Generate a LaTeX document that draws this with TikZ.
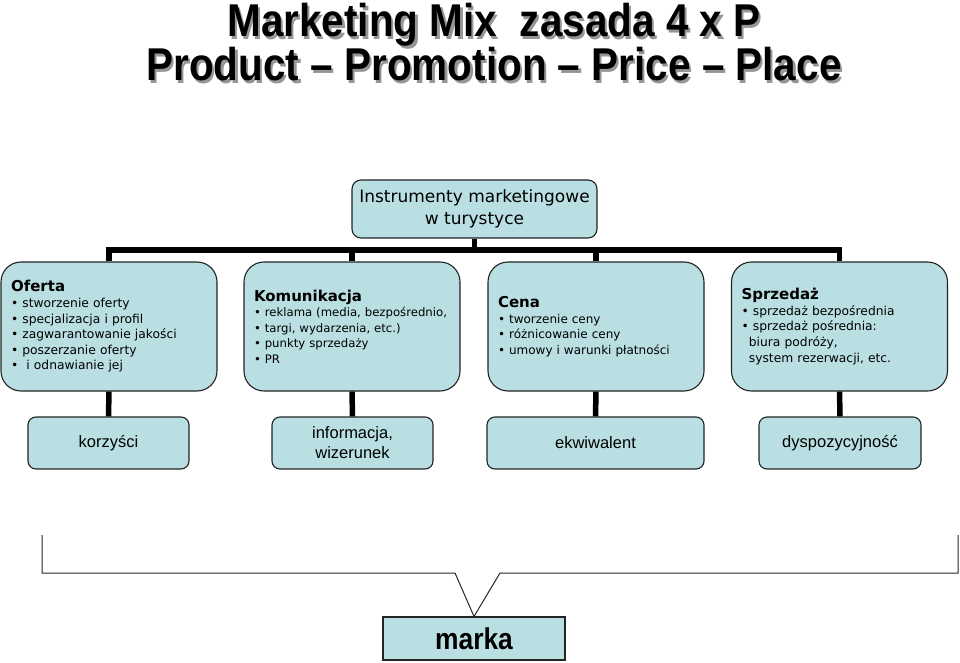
\documentclass[tikz,border=0pt]{standalone}
\usepackage{fontspec}
\setmainfont{DejaVu Sans}
\newfontfamily\arialfont{Liberation Sans}
\usetikzlibrary{positioning}
\definecolor{cFill}{RGB}{186,223,227}
\definecolor{cLine}{RGB}{35,35,35}
\definecolor{cShadow}{RGB}{150,150,150}
\tikzset{
	titletext/.style={font=\arialfont\bfseries\fontsize{46}{46}\selectfont, anchor=base, inner sep=0pt},
	topbox/.style={draw=cLine, line width=1.1pt, rounded corners=9pt, fill=cFill,
		minimum width=245pt, minimum height=58pt, align=center,
		font=\fontsize{17}{22}\selectfont},
	catbox/.style={draw=cLine, line width=1.1pt, rounded corners=20pt, fill=cFill,
		text width=196pt, inner xsep=10pt, minimum height=129pt, align=left,
		font=\fontsize{12.3}{15.6}\selectfont},
	valbox/.style={draw=cLine, line width=1.1pt, rounded corners=8pt, fill=cFill,
		minimum height=52pt, align=center, inner sep=0pt,
		font=\arialfont\fontsize{16.5}{20}\selectfont},
	brandbox/.style={draw=cLine, line width=1.2pt, fill=cFill,
		minimum width=182pt, minimum height=43pt,
		font=\arialfont\bfseries\fontsize{30}{30}\selectfont},
	bus/.style={line width=5.5pt, draw=black},
	bracket/.style={line width=1pt, draw=black!85},
}
\newcommand{\hd}[1]{{\bfseries\fontsize{15}{20}\selectfont #1}}
% text with a grey drop shadow
\newcommand{\shadowed}[1]{\makebox[0pt][l]{\hspace{2.5pt}\raisebox{-2.5pt}{\color{cShadow}#1}}#1}

\begin{document}
\begin{tikzpicture}[x=1pt,y=-1pt]
	\useasboundingbox (0,0) rectangle (960,663);
	% title
	\node[titletext] (titlea) at (494,37) {\scalebox{0.88}[1]{\shadowed{Marketing Mix\ \ zasada 4 x P}}};
	\node[titletext] (titleb) at (494,81) {\scalebox{0.88}[1]{\shadowed{Product – Promotion – Price – Place}}};

	% tree
	\node[topbox] (instr) at (474.5,209) {Instrumenty marketingowe\\w turystyce};
	\coordinate (bus) at (474.5,250);

	\node[catbox] (oferta) at (109,326.5) {\hd{Oferta}\\
		• stworzenie oferty\\
		• specjalizacja i profil\\
		• zagwarantowanie jakości\\
		• poszerzanie oferty\\
		•\ \ i odnawianie jej};
	\node[catbox, font=\fontsize{11.7}{15.6}\selectfont] (komunik) at (352,326.5) {\hd{Komunikacja}\\
		• reklama (media, bezpośrednio,\\
		• targi, wydarzenia, etc.)\\
		• punkty sprzedaży\\
		• PR};
	\node[catbox, font=\fontsize{12}{15.6}\selectfont] (cena) at (596,326.5) {\hd{Cena}\\
		• tworzenie ceny\\
		• różnicowanie ceny\\
		• umowy i warunki płatności};
	\node[catbox] (sprzed) at (839.5,326.5) {\hd{Sprzedaż}\\
		• sprzedaż bezpośrednia\\
		• sprzedaż pośrednia:\\
		\hspace*{0.6em}biura podróży,\\
		\hspace*{0.6em}system rezerwacji, etc.};

	\draw[bus] (instr.south) -- (bus);
	\draw[bus] (oferta.north) |- (bus) -| (sprzed.north);
	\draw[bus] (komunik.north) -- (komunik.north |- bus);
	\draw[bus] (cena.north) -- (cena.north |- bus);

	\node[valbox, minimum width=161pt] (korzysci) at (108.5,443) {korzyści};
	\node[valbox, minimum width=161pt] (inform) at (352.5,443) {informacja,\\wizerunek};
	\node[valbox, minimum width=217pt] (ekwiw) at (595.5,443) {ekwiwalent};
	\node[valbox, minimum width=162pt] (dyspoz) at (840,443) {dyspozycyjność};

	\draw[bus] (oferta.south) -- (korzysci.north);
	\draw[bus] (komunik.south) -- (inform.north);
	\draw[bus] (cena.south) -- (ekwiw.north);
	\draw[bus] (sprzed.south) -- (dyspoz.north);

	% brand
	\node[brandbox] (marka) at (474,638.5) {\scalebox{0.88}[1]{marka}};
	\coordinate (brl) at (42,535);
	\coordinate (brr) at (958,535);
	\draw[bracket] (brl) -- (42,573) -- (455,573) -- (marka.north) -- (500,573) -- (958,573) -- (brr);
\end{tikzpicture}
\end{document}
